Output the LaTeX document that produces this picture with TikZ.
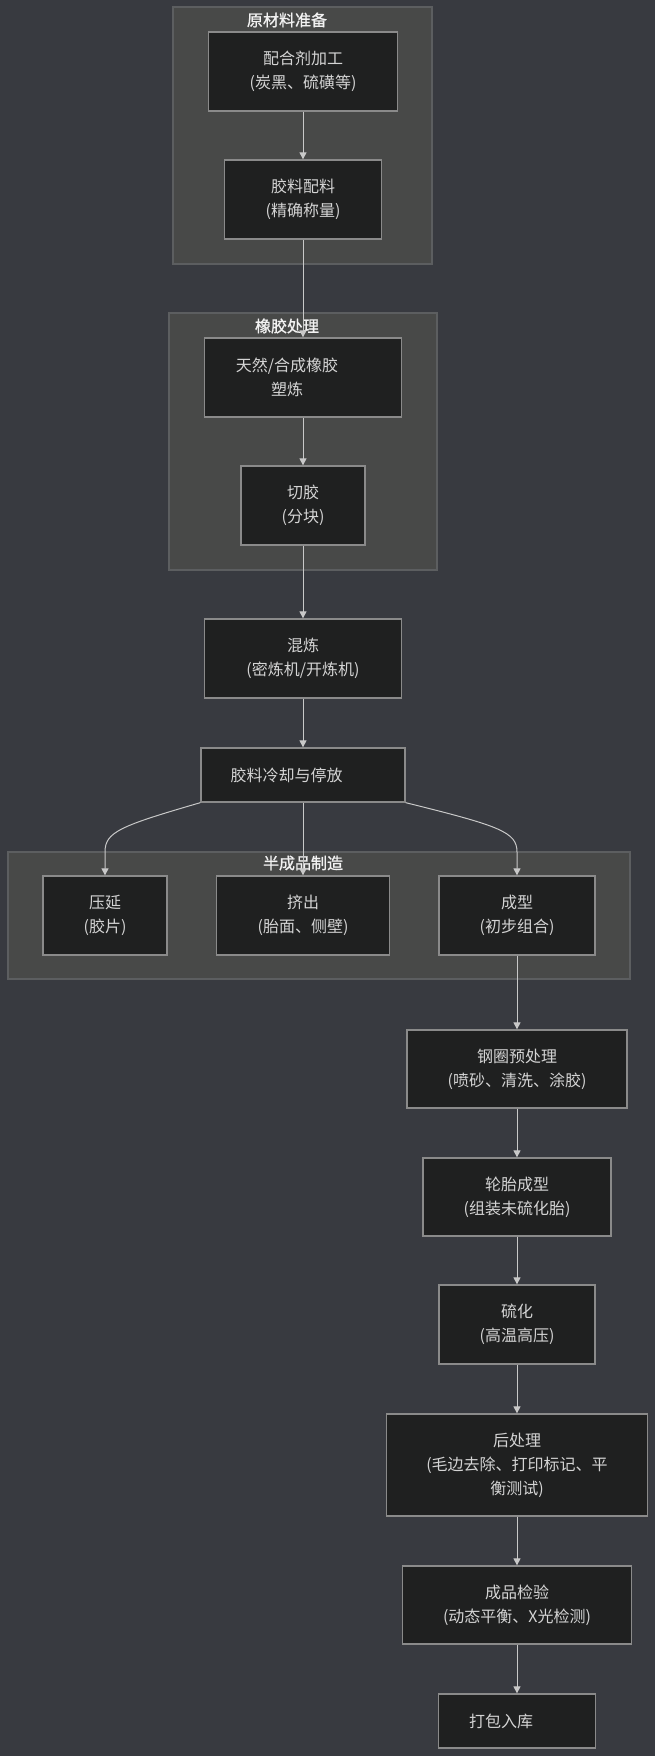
\documentclass[tikz,border=0pt]{standalone}
\usepackage{fontspec}
\setmainfont{Noto Sans CJK SC}
\newfontfamily\ttlfont[FakeBold=1]{Noto Sans CJK SC}
\usetikzlibrary{arrows.meta}
\definecolor{bg}{RGB}{56,58,64}
\definecolor{clfill}{RGB}{72,73,72}
\definecolor{cldraw}{RGB}{92,94,96}
\definecolor{ndfill}{RGB}{31,32,32}
\definecolor{nddraw}{RGB}{138,138,138}
\definecolor{ndtext}{RGB}{212,212,212}
\definecolor{ttext}{RGB}{242,242,242}
\definecolor{edgec}{RGB}{200,200,200}
\tikzset{
  cluster/.style={fill=clfill, draw=cldraw, line width=1.2pt},
  ctitle/.style={text=ttext, font=\ttlfont\fontsize{16}{20}\selectfont, inner sep=0pt},
  box/.style={fill=ndfill, draw=nddraw, line width=1.3pt, inner sep=0pt, text=ndtext, align=center, font=\fontsize{16}{24}\selectfont},
  lbl/.style={text=ndtext, align=center, font=\fontsize{16}{24}\selectfont, inner sep=0pt},
  flow/.style={draw=edgec, line width=1pt, -{Triangle[width=7pt,length=7pt]}},
}
\begin{document}
\begin{tikzpicture}[x=1pt,y=-1pt]
\useasboundingbox (0,0) rectangle (655,1756);
\fill[bg] (0,0) rectangle (655,1756);

% clusters
\draw[cluster] (173,7) rectangle (432,264);
\draw[cluster] (169,313) rectangle (437,570);
\draw[cluster] (8,852) rectangle (630,979);
\node[ctitle] (t1) at (287,20) {原材料准备};
\node[ctitle] (t2) at (287,326) {橡胶处理};
\node[ctitle] (t3) at (303,863) {半成品制造};

% nodes
\node[box, minimum width=189pt, minimum height=79pt] (n1) at (303,71.5) {配合剂加工\\(炭黑、硫磺等)};
\node[box, minimum width=157pt, minimum height=79pt] (n2) at (303,199.5) {胶料配料\\(精确称量)};
\node[box, minimum width=197pt, minimum height=79pt] (n3) at (303,377.5) {};
\node[lbl] (n3t) at (287,377.5) {天然/合成橡胶\\塑炼};
\node[box, minimum width=124pt, minimum height=79pt] (n4) at (303,505.5) {切胶\\(分块)};
\node[box, minimum width=197pt, minimum height=79pt] (n5) at (303,658.5) {混炼\\(密炼机/开炼机)};
\node[box, minimum width=204pt, minimum height=54pt] (n6) at (303,775) {};
\node[lbl] (n6t) at (286.5,775) {胶料冷却与停放};
\node[box, minimum width=124pt, minimum height=79pt] (n7) at (105,915.5) {压延\\(胶片)};
\node[box, minimum width=173pt, minimum height=79pt] (n8) at (303,915.5) {挤出\\(胎面、侧壁)};
\node[box, minimum width=156pt, minimum height=79pt] (n9) at (517,915.5) {成型\\(初步组合)};
\node[box, minimum width=220pt, minimum height=78pt] (n10) at (517,1069) {钢圈预处理\\(喷砂、清洗、涂胶)};
\node[box, minimum width=188pt, minimum height=78pt] (n11) at (517,1197) {轮胎成型\\(组装未硫化胎)};
\node[box, minimum width=156pt, minimum height=79pt] (n12) at (517,1324.5) {硫化\\(高温高压)};
\node[box, minimum width=261pt, minimum height=102pt] (n13) at (517,1465) {后处理\\(毛边去除、打印标记、平\\衡测试)};
\node[box, minimum width=229pt, minimum height=78pt] (n14) at (517,1605) {成品检验\\(动态平衡、X光检测)};
\node[box, minimum width=157pt, minimum height=54pt] (n15) at (517,1721) {};
\node[lbl] (n15t) at (501,1721) {打包入库};

% edges
\draw[flow] (n1) -- (n2);
\draw[flow] (n2) -- (n3);
\draw[flow] (n3) -- (n4);
\draw[flow] (n4) -- (n5);
\draw[flow] (n5) -- (n6);
\draw[flow] (n6.south west) .. controls (120,826) and (105,832) .. (105,852) -- (n7.north);
\draw[flow] (n6) -- (n8);
\draw[flow] (n6.south east) .. controls (500,826) and (517,832) .. (517,852) -- (n9.north);
\draw[flow] (n9) -- (n10);
\draw[flow] (n10) -- (n11);
\draw[flow] (n11) -- (n12);
\draw[flow] (n12) -- (n13);
\draw[flow] (n13) -- (n14);
\draw[flow] (n14) -- (n15);
\end{tikzpicture}
\end{document}
